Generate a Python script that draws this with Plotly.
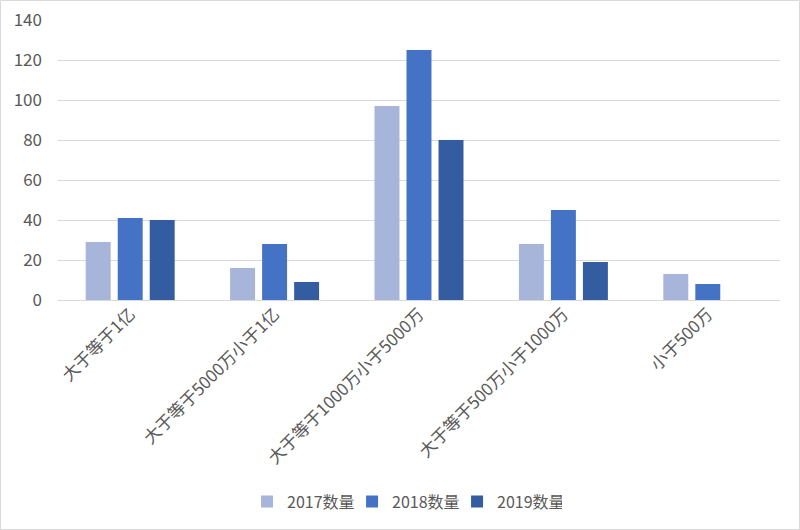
import plotly.graph_objects as go

categories = ["大于等于1亿", "大于等于5000万小于1亿", "大于等于1000万小于5000万", "大于等于500万小于1000万", "小于500万"]
series_names = ["2017数量", "2018数量", "2019数量"]
v2017 = [29, 16, 97, 28, 13]
v2018 = [41, 28, 125, 45, 8]
v2019 = [40, 9, 80, 19, None]
colors = ["#A7B5DB", "#4472C4", "#345DA1"]
y_ticks = [0, 20, 40, 60, 80, 100, 120, 140]

font_family = "Noto Sans CJK SC, Noto Sans, sans-serif"

fig = go.Figure()
for name, vals, c in zip(series_names, [v2017, v2018, v2019], colors):
    fig.add_trace(go.Bar(x=categories, y=vals, name=name, marker=dict(color=c, line=dict(width=0))))

fig.update_layout(
    width=800, height=530,
    barmode="group", bargap=0.335, bargroupgap=0.22,
    plot_bgcolor="white", paper_bgcolor="white",
    margin=dict(l=58, r=20, t=20, b=230, autoexpand=False),
    font=dict(family=font_family, color="#595959"),
    showlegend=True,
    legend=dict(orientation="h", x=0.48, xanchor="center", y=-0.72, yanchor="middle",
                font=dict(size=16, color="#595959"), traceorder="normal",
                entrywidth=60, entrywidthmode="pixels", itemwidth=30),
    xaxis=dict(tickangle=-45, tickfont=dict(size=17, color="#595959"), showgrid=False,
               showline=False, ticks="", automargin=False),
    yaxis=dict(range=[0, 140], tickvals=y_ticks, tickfont=dict(size=17, color="#595959"),
               showgrid=True, gridcolor="#D9D9D9", gridwidth=1, zeroline=True,
               zerolinecolor="#D9D9D9", zerolinewidth=1, showline=False, ticks="",
               ticklabelstandoff=15, automargin=False),
    shapes=[dict(type="rect", xref="paper", yref="paper",
                 x0=-57.5/722, x1=1 + 19.5/722, y0=-229.5/280, y1=1 + 19.5/280,
                 line=dict(color="#D9D9D9", width=1), fillcolor="rgba(0,0,0,0)", layer="below")],
)

fig.write_html("out.html", config={"displayModeBar": False},
               post_script="document.body.style.margin='0';document.body.style.padding='0';")
